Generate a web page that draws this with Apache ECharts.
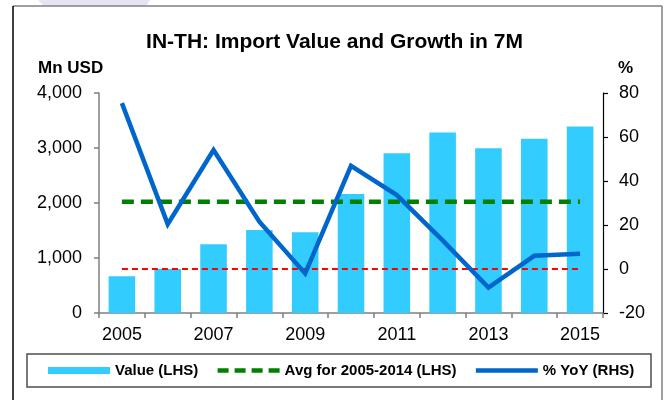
<!DOCTYPE html>
<html>
<head>
<meta charset="utf-8">
<script src="https://cdn.jsdelivr.net/npm/echarts@6/dist/echarts.min.js"></script>
<style>
  html, body { margin: 0; padding: 0; background: #fff; }
  #chart { width: 669px; height: 400px; }
</style>
</head>
<body>
<div id="chart"></div>
<script>
// Years on the category axis
const years = ['2005', '2006', '2007', '2008', '2009', '2010', '2011', '2012', '2013', '2014', '2015'];
// Import value, Mn USD (left axis)
const importValue = [670, 800, 1250, 1510, 1470, 2165, 2905, 3280, 2995, 3170, 3390];
// Average 2005-2014 import value, Mn USD (left axis)
const avgValue = [2022, 2022, 2022, 2022, 2022, 2022, 2022, 2022, 2022, 2022, 2022];
// Year-on-year growth, % (right axis)
const yoyGrowth = [75.4, 20.4, 54.1, 21.5, -2.0, 46.9, 33.6, 13.0, -8.4, 6.0, 6.9];
// Zero reference on the growth axis
const zeroLine = [0, 0, 0, 0, 0, 0, 0, 0, 0, 0, 0];

const FONT = '"Liberation Sans", Arial, sans-serif';

const chart = echarts.init(document.getElementById('chart'), null, { renderer: 'canvas' });

chart.setOption({
  animation: false,
  backgroundColor: '#ffffff',
  textStyle: { fontFamily: FONT },
  title: {
    text: 'IN-TH: Import Value and Growth in 7M',
    left: 'center',
    top: 27,
    textStyle: { fontFamily: FONT, fontSize: 21, fontWeight: 'bold', color: '#000' }
  },
  grid: { left: 99, right: 66, top: 93, bottom: 87, containLabel: false },
  legend: {
    left: 48,
    top: 363,
    padding: 0,
    itemGap: 17,
    itemWidth: 62,
    itemHeight: 7,
    textStyle: { fontFamily: FONT, fontSize: 15, fontWeight: 'bold', color: '#000' },
    data: [
      { name: 'Value (LHS)', icon: 'rect' },
      {
        name: 'Avg for 2005-2014 (LHS)',
        itemStyle: { opacity: 0 },
        lineStyle: { color: '#008000', width: 4.5, type: [11, 6], opacity: 1 }
      },
      {
        name: '% YoY (RHS)',
        itemStyle: { opacity: 0 },
        lineStyle: { color: '#0066cc', width: 4.5, opacity: 1 }
      }
    ]
  },
  xAxis: {
    type: 'category',
    data: years,
    boundaryGap: true,
    axisLine: { lineStyle: { color: '#7f7f7f', width: 1.5 } },
    axisTick: { show: true, interval: 0, length: 5, lineStyle: { color: '#7f7f7f', width: 1.5 } },
    axisLabel: { interval: 1, fontSize: 18, color: '#000', margin: 13, fontFamily: FONT },
    splitLine: { show: false }
  },
  yAxis: [
    {
      type: 'value',
      min: 0, max: 4000, interval: 1000,
      axisLine: { show: true, lineStyle: { color: '#7f7f7f', width: 1.5 } },
      axisTick: { show: true, length: 5, lineStyle: { color: '#7f7f7f', width: 1.5 } },
      axisLabel: {
        fontSize: 18, color: '#000', margin: 17, fontFamily: FONT,
        formatter: v => v.toLocaleString('en-US')
      },
      splitLine: { show: false }
    },
    {
      type: 'value',
      min: -20, max: 80, interval: 20,
      position: 'right',
      axisLine: { show: true, lineStyle: { color: '#000', width: 1.2 } },
      axisTick: { show: true, length: 5, lineStyle: { color: '#000', width: 1.2 } },
      axisLabel: { fontSize: 18, color: '#000', margin: 16, fontFamily: FONT },
      splitLine: { show: false }
    }
  ],
  series: [
    {
      name: 'Value (LHS)',
      type: 'bar',
      yAxisIndex: 0,
      data: importValue,
      barCategoryGap: '42%',
      itemStyle: { color: '#33ccff' },
      z: 2
    },
    {
      name: 'Zero',
      type: 'line',
      yAxisIndex: 1,
      data: zeroLine,
      symbol: 'none',
      silent: true,
      lineStyle: { color: '#ff0000', width: 2, type: [6, 4] },
      z: 3
    },
    {
      name: 'Avg for 2005-2014 (LHS)',
      type: 'line',
      yAxisIndex: 0,
      data: avgValue,
      symbol: 'none',
      itemStyle: { color: '#008000' },
      lineStyle: { color: '#008000', width: 4.5, type: [12, 7] },
      z: 4
    },
    {
      name: '% YoY (RHS)',
      type: 'line',
      yAxisIndex: 1,
      data: yoyGrowth,
      symbol: 'none',
      itemStyle: { color: '#0066cc' },
      lineStyle: { color: '#0066cc', width: 4.5, join: 'miter' },
      z: 5
    }
  ],
  graphic: [
    // faint watermark fragment at the top edge
    { type: 'polygon', shape: { points: [[38, 0], [150, 0], [146, 6], [44, 6]] }, style: { fill: '#e6e4f2' }, z: -1 },
    // outer frame
    { type: 'line', shape: { x1: 13, y1: 6, x2: 662, y2: 6 }, style: { stroke: '#808080', lineWidth: 1.5 } },
    { type: 'line', shape: { x1: 13, y1: 6, x2: 13, y2: 400 }, style: { stroke: '#000', lineWidth: 1.5 } },
    { type: 'line', shape: { x1: 662, y1: 6, x2: 662, y2: 400 }, style: { stroke: '#808080', lineWidth: 1.5 } },
    // legend box
    { type: 'rect', shape: { x: 27, y: 354, width: 624, height: 33 }, style: { fill: 'none', stroke: '#4d4d4d', lineWidth: 1.5 } },
    // axis unit captions
    { type: 'text', left: 38, top: 60, style: { text: 'Mn USD', font: 'bold 17px ' + FONT, fill: '#000' } },
    { type: 'text', left: 618, top: 60, style: { text: '%', font: 'bold 17px ' + FONT, fill: '#000' } }
  ]
});
</script>
</body>
</html>
